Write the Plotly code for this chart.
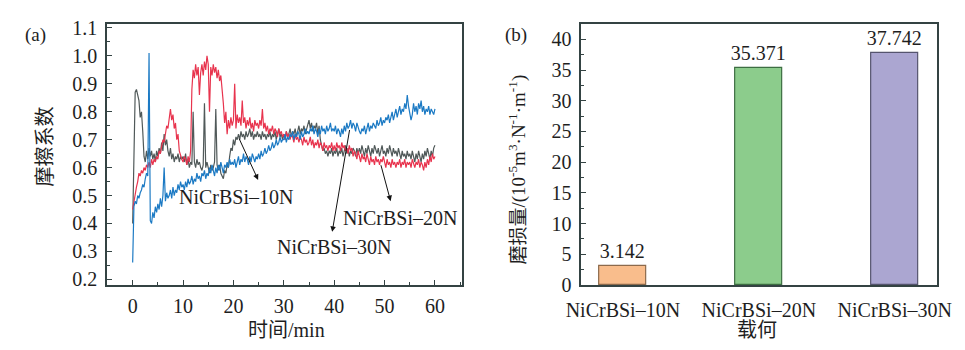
import numpy as np
import plotly.graph_objects as go

# ---------------- (a) friction coefficient vs. time ----------------
# sampling grid: every 0.25 min from 0 to 60 min
time_min = np.round(np.arange(0, 60.001, 0.25), 2)

cof_10N = [
    0.40, 0.62, 0.87, 0.88, 0.86, 0.84, 0.78, 0.80, 0.73, 0.64, 0.62, 0.66, 0.63, 0.67, 0.64, 0.66, 0.63, 0.65, 0.62, 0.66,
    0.64, 0.67, 0.65, 0.69, 0.66, 0.72, 0.68, 0.70, 0.66, 0.64, 0.67, 0.63, 0.65, 0.62, 0.64, 0.63, 0.65, 0.62, 0.64, 0.63,
    0.64, 0.62, 0.65, 0.61, 0.63, 0.60, 0.62, 0.61, 0.80, 0.62, 0.60, 0.63, 0.61, 0.62, 0.60, 0.59, 0.61, 0.83, 0.60, 0.62,
    0.60, 0.58, 0.61, 0.59, 0.60, 0.62, 0.81, 0.61, 0.59, 0.61, 0.58, 0.57, 0.56, 0.59, 0.58, 0.61, 0.60, 0.64, 0.67, 0.66,
    0.70, 0.68, 0.71, 0.70, 0.72, 0.70, 0.73, 0.71, 0.72, 0.70, 0.73, 0.71, 0.72, 0.74, 0.71, 0.73, 0.70, 0.72, 0.71, 0.73,
    0.71, 0.72, 0.70, 0.73, 0.71, 0.72, 0.70, 0.72, 0.71, 0.73, 0.70, 0.72, 0.71, 0.73, 0.70, 0.72, 0.74, 0.71, 0.72, 0.70,
    0.72, 0.70, 0.73, 0.71, 0.72, 0.74, 0.71, 0.73, 0.72, 0.74, 0.71, 0.73, 0.75, 0.72, 0.74, 0.73, 0.75, 0.72, 0.74, 0.76,
    0.77, 0.74, 0.76, 0.73, 0.75, 0.74, 0.76, 0.72, 0.75, 0.70, 0.68, 0.66, 0.67, 0.65, 0.66, 0.64, 0.66, 0.65, 0.67, 0.64,
    0.66, 0.65, 0.67, 0.64, 0.66, 0.65, 0.67, 0.64, 0.66, 0.68, 0.65, 0.67, 0.64, 0.66, 0.65, 0.67, 0.66, 0.64, 0.67, 0.65,
    0.67, 0.65, 0.68, 0.66, 0.64, 0.67, 0.65, 0.68, 0.66, 0.64, 0.67, 0.65, 0.68, 0.66, 0.65, 0.67, 0.64, 0.66, 0.68, 0.65,
    0.66, 0.64, 0.67, 0.65, 0.68, 0.66, 0.64, 0.67, 0.65, 0.66, 0.64, 0.67, 0.65, 0.63, 0.66, 0.64, 0.65, 0.63, 0.66, 0.64,
    0.65, 0.63, 0.66, 0.64, 0.62, 0.65, 0.63, 0.66, 0.64, 0.62, 0.65, 0.63, 0.66, 0.64, 0.67, 0.65, 0.63, 0.66, 0.64, 0.67,
    0.68,
]

cof_20N = [
    0.45, 0.48, 0.50, 0.53, 0.55, 0.58, 0.57, 0.59, 0.58, 0.60, 0.59, 0.61, 0.60, 0.62, 0.60, 0.63, 0.61, 0.63, 0.62, 0.64,
    0.63, 0.66, 0.65, 0.68, 0.70, 0.69, 0.72, 0.75, 0.74, 0.78, 0.81, 0.77, 0.79, 0.74, 0.76, 0.70, 0.72, 0.66, 0.64, 0.63,
    0.62, 0.64, 0.63, 0.61, 0.64, 0.62, 0.66, 0.88, 0.95, 0.92, 0.97, 0.93, 0.96, 0.86, 0.94, 0.97, 0.93, 0.98, 0.95, 1.00,
    0.97, 0.80, 0.96, 0.93, 0.97, 0.94, 0.96, 0.92, 0.95, 0.91, 0.93, 0.89, 0.83, 0.76, 0.80, 0.72, 0.77, 0.74, 0.78, 0.75,
    0.77, 0.90, 0.74, 0.79, 0.76, 0.78, 0.75, 0.84, 0.76, 0.78, 0.74, 0.77, 0.75, 0.78, 0.74, 0.76, 0.73, 0.77, 0.75, 0.76,
    0.74, 0.77, 0.75, 0.81, 0.74, 0.76, 0.73, 0.75, 0.72, 0.74, 0.73, 0.75, 0.72, 0.74, 0.73, 0.71, 0.74, 0.72, 0.73, 0.71,
    0.72, 0.70, 0.73, 0.71, 0.72, 0.70, 0.72, 0.71, 0.69, 0.72, 0.70, 0.71, 0.69, 0.71, 0.70, 0.68, 0.71, 0.69, 0.70, 0.68,
    0.69, 0.71, 0.68, 0.70, 0.67, 0.69, 0.68, 0.70, 0.67, 0.69, 0.68, 0.66, 0.69, 0.67, 0.68, 0.66, 0.68, 0.67, 0.69, 0.66,
    0.68, 0.66, 0.69, 0.67, 0.68, 0.66, 0.69, 0.67, 0.68, 0.66, 0.67, 0.65, 0.68, 0.66, 0.67, 0.64, 0.66, 0.65, 0.63, 0.66,
    0.64, 0.62, 0.65, 0.63, 0.64, 0.62, 0.65, 0.63, 0.61, 0.64, 0.62, 0.63, 0.61, 0.64, 0.62, 0.63, 0.61, 0.63, 0.62, 0.64,
    0.62, 0.60, 0.63, 0.61, 0.62, 0.60, 0.63, 0.61, 0.62, 0.60, 0.62, 0.61, 0.63, 0.60, 0.62, 0.61, 0.63, 0.60, 0.62, 0.61,
    0.62, 0.60, 0.63, 0.61, 0.60, 0.62, 0.61, 0.63, 0.60, 0.62, 0.61, 0.59, 0.62, 0.60, 0.63, 0.61, 0.64, 0.62, 0.65, 0.63,
    0.64,
]

cof_30N = [
    0.26, 0.46, 0.48, 0.47, 0.50, 0.49, 0.51, 0.52, 0.54, 0.53, 0.56, 0.58, 0.57, 1.01, 0.41, 0.40, 0.44, 0.42, 0.46, 0.44,
    0.47, 0.45, 0.49, 0.46, 0.50, 0.60, 0.48, 0.51, 0.49, 0.50, 0.52, 0.49, 0.53, 0.50, 0.52, 0.51, 0.54, 0.52, 0.55, 0.53,
    0.54, 0.52, 0.55, 0.53, 0.56, 0.54, 0.55, 0.57, 0.54, 0.56, 0.55, 0.58, 0.56, 0.57, 0.55, 0.58, 0.57, 0.59, 0.56, 0.58,
    0.57, 0.60, 0.58, 0.61, 0.59, 0.57, 0.60, 0.58, 0.61, 0.59, 0.62, 0.60, 0.58, 0.61, 0.60, 0.62, 0.60, 0.63, 0.61, 0.62,
    0.61, 0.63, 0.60, 0.62, 0.64, 0.61, 0.63, 0.62, 0.65, 0.62, 0.64, 0.63, 0.61, 0.64, 0.62, 0.65, 0.63, 0.62, 0.64, 0.63,
    0.65, 0.63, 0.66, 0.64, 0.65, 0.67, 0.65, 0.66, 0.68, 0.66, 0.67, 0.69, 0.67, 0.68, 0.70, 0.68, 0.69, 0.71, 0.69, 0.70,
    0.70, 0.72, 0.69, 0.71, 0.70, 0.72, 0.71, 0.73, 0.70, 0.72, 0.71, 0.73, 0.72, 0.70, 0.73, 0.71, 0.72, 0.74, 0.72, 0.73,
    0.72, 0.74, 0.73, 0.75, 0.72, 0.74, 0.73, 0.71, 0.74, 0.72, 0.75, 0.73, 0.74, 0.72, 0.75, 0.73, 0.74, 0.76, 0.73, 0.74,
    0.73, 0.75, 0.72, 0.74, 0.73, 0.71, 0.74, 0.72, 0.75, 0.73, 0.76, 0.74, 0.75, 0.77, 0.74, 0.76, 0.75, 0.73, 0.76, 0.74,
    0.73, 0.72, 0.74, 0.73, 0.75, 0.72, 0.74, 0.76, 0.73, 0.75, 0.74, 0.76, 0.75, 0.74, 0.77, 0.75, 0.76, 0.78, 0.75, 0.77,
    0.76, 0.78, 0.77, 0.79, 0.76, 0.78, 0.80, 0.77, 0.79, 0.81, 0.78, 0.80, 0.82, 0.79, 0.81, 0.80, 0.83, 0.81, 0.86, 0.82,
    0.80, 0.77, 0.79, 0.83, 0.80, 0.82, 0.79, 0.83, 0.81, 0.84, 0.80, 0.82, 0.79, 0.81, 0.80, 0.82, 0.79, 0.81, 0.80, 0.79,
    0.81,
]

series_names = ["NiCrBSi–10N", "NiCrBSi–20N", "NiCrBSi–30N"]
line_colors = ["#505959", "#e8344e", "#1c7ac4"]

# ---------------- (b) wear rate per load ----------------
loads = ["NiCrBSi–10N", "NiCrBSi–20N", "NiCrBSi–30N"]
wear_rate = [3.142, 35.371, 37.742]
bar_fill = ["#f9bd8c", "#8ccc8c", "#aba6d1"]
bar_edge = ["#8c6a4c", "#3d6e42", "#55546e"]

SERIF = "Liberation Serif, Noto Sans CJK SC, serif"
AXIS_COLOR = "#344343"
TEXT_COLOR = "#1e1e1e"
FS = 19

fig = go.Figure()

for vals, name, col in [(cof_10N, series_names[0], line_colors[0]),
                        (cof_20N, series_names[1], line_colors[1]),
                        (cof_30N, series_names[2], line_colors[2])]:
    assert len(vals) == len(time_min)
    fig.add_trace(go.Scatter(x=time_min, y=vals, mode="lines", name=name,
                             line=dict(color=col, width=1.2),
                             xaxis="x", yaxis="y", showlegend=False))

fig.add_trace(go.Bar(x=loads, y=wear_rate, width=0.35,
                     marker=dict(color=bar_fill, line=dict(color=bar_edge, width=1.2)),
                     text=[f"{v:.3f}" for v in wear_rate], textposition="outside",
                     constraintext="none",
                     textfont=dict(family=SERIF, size=FS + 1, color=TEXT_COLOR),
                     cliponaxis=False, xaxis="x2", yaxis="y2", showlegend=False))

axis_common = dict(showline=True, linecolor=AXIS_COLOR, linewidth=1.5, mirror=True,
                   ticks="inside", ticklen=5, tickwidth=1.2, tickcolor=AXIS_COLOR,
                   showgrid=False, zeroline=False,
                   tickfont=dict(family=SERIF, size=FS + 1, color=TEXT_COLOR))

fig.update_layout(
    width=965, height=350,
    margin=dict(l=0, r=0, t=0, b=0),
    paper_bgcolor="white", plot_bgcolor="white",
    bargap=0,
    xaxis=dict(domain=[0.0974, 0.4777], range=[-5.1, 65.4], tickmode="linear", tick0=0, dtick=10,
               minor=dict(ticks="inside", dtick=5, ticklen=3, tickcolor=AXIS_COLOR),
               ticklabelstandoff=2, anchor="y", **axis_common),
    yaxis=dict(domain=[0.1629, 0.9486], range=[0.18, 1.114], tickmode="linear", tick0=0.2, dtick=0.1,
               tickformat=".1f",
               minor=dict(ticks="inside", dtick=0.05, ticklen=3, tickcolor=AXIS_COLOR),
               ticklabelstandoff=4, anchor="x", **axis_common),
    xaxis2=dict(domain=[0.6052, 0.9865], range=[-0.306, 2.313], type="category",
                ticklabelstandoff=6, anchor="y2", **{**axis_common, "ticks": ""}),
    yaxis2=dict(domain=[0.1629, 0.9486], range=[0, 42.5], tickmode="linear", tick0=0, dtick=5,
                minor=dict(ticks="inside", dtick=2.5, ticklen=3, tickcolor=AXIS_COLOR),
                ticklabelstandoff=4, anchor="x2", **axis_common),
)

ann_font = dict(family=SERIF, size=FS + 1, color=TEXT_COLOR)
title_font = dict(family="Liberation Serif, Noto Sans CJK SC", size=FS + 1, color=TEXT_COLOR)


def paper_text(text, px, py, angle=0, font=title_font):
    return dict(text=text, x=px / 965, y=1 - py / 350, xref="paper", yref="paper",
                xanchor="center", yanchor="middle", showarrow=False, textangle=angle, font=font)


annotations = [
    # panel tags
    paper_text("(a)", 20, 30, font=dict(family=SERIF, size=FS, color=TEXT_COLOR)),
    paper_text("(b)", 517, 30, font=dict(family=SERIF, size=FS, color=TEXT_COLOR)),
    # axis titles
    paper_text("摩擦系数", 30, 147, angle=-90),
    paper_text("时间/min", 279, 340),
    paper_text("磨损量/(10<sup>-5</sup>m<sup>3</sup>·N<sup>-1</sup>·m<sup>-1</sup>)", 518, 171, angle=-90,
               font=dict(family="Liberation Serif, Noto Sans CJK SC", size=FS, color=TEXT_COLOR)),
    paper_text("载何", 766, 340),
    # curve labels
    dict(text=series_names[0], x=20.6, y=0.495, xref="x", yref="y", showarrow=False, font=ann_font),
    dict(text=series_names[1], x=53.1, y=0.42, xref="x", yref="y", showarrow=False, font=ann_font),
    dict(text=series_names[2], x=40.0, y=0.317, xref="x", yref="y", showarrow=False, font=ann_font),
]

# leader arrows from each curve toward its label
arrows = [((21.0, 0.709), (24.9, 0.556)),
          ((49.2, 0.614), (51.2, 0.48)),
          ((43.1, 0.74), (39.6, 0.37))]
for (tx, ty), (hx, hy) in arrows:
    annotations.append(dict(text="", x=hx, y=hy, ax=tx, ay=ty, xref="x", yref="y",
                            axref="x", ayref="y", showarrow=True, arrowhead=2,
                            arrowsize=1.1, arrowwidth=1, arrowcolor="#111111"))

fig.update_layout(annotations=annotations)

fig.write_html("out.html")
